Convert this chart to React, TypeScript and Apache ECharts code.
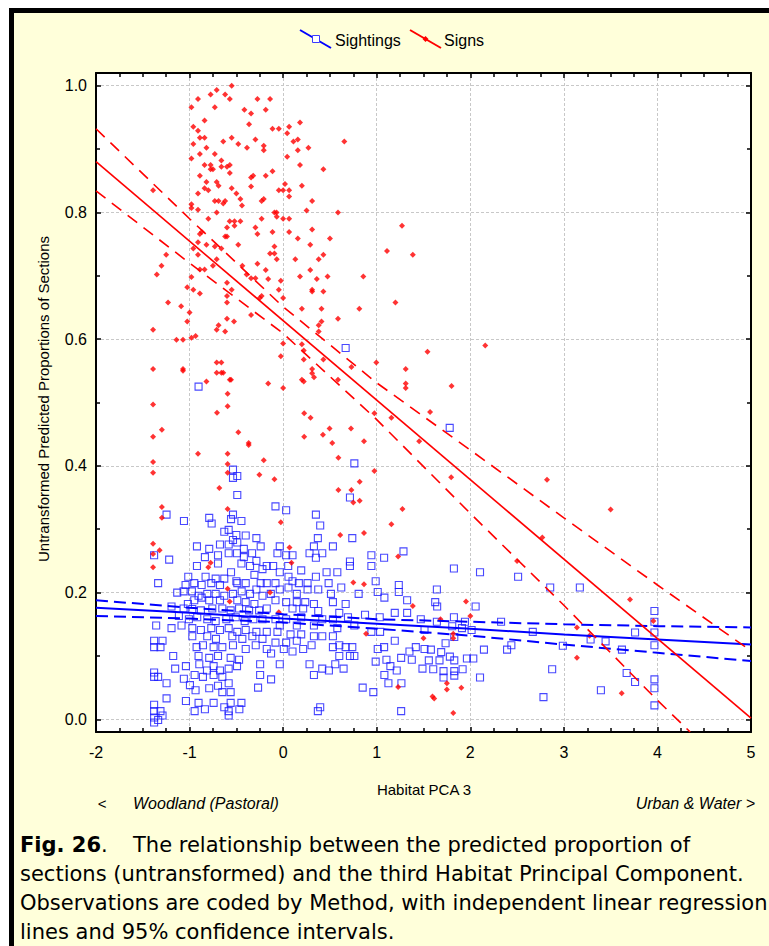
import { useEffect, useRef } from "react";
import * as echarts from "echarts";

// ---- data ----
const xTicks = [-2, -1, 0, 1, 2, 3, 4, 5];

const sightings: [number, number][] = [
  [-0.536,0.394],[-0.536,0.381],[-0.49,0.384],[-0.49,0.354],[-1.246,0.323],[-1.06,0.313],[-0.79,0.318],[-0.764,0.309],[-0.536,0.323],[-0.557,0.316],[-0.446,0.313],[-0.629,0.296],[-0.582,0.299],[-0.5,0.291],[-0.4,0.29],[-0.286,0.286],[-0.921,0.273],[-0.79,0.269],[-0.675,0.276],[-0.582,0.276],[-0.536,0.283],[-0.49,0.279],[-0.42,0.269],[-0.332,0.262],[-0.24,0.273],[-1.379,0.259],[-1.218,0.252],[-0.836,0.256],[-0.696,0.259],[-0.582,0.262],[-0.493,0.262],[-0.42,0.256],[-0.921,0.242],[-0.696,0.246],[-0.446,0.246],[-0.354,0.242],[-0.286,0.25],[-0.221,0.237],[-1.336,0.215],[-1.014,0.225],[-0.829,0.225],[-0.721,0.222],[-0.557,0.232],[-0.629,0.222],[-0.5,0.218],[-0.307,0.228],[-1.043,0.212],[-0.95,0.215],[-0.871,0.212],[-0.768,0.215],[-0.675,0.212],[-0.49,0.215],[-0.4,0.215],[-0.24,0.215],[-1.132,0.2],[-1.064,0.202],[-0.975,0.202],[-0.904,0.195],[-0.811,0.198],[-0.721,0.198],[-0.629,0.195],[-0.536,0.198],[-0.443,0.202],[-0.354,0.198],[-0.286,0.205],[-0.221,0.195],[-1.018,0.182],[-0.95,0.188],[-0.871,0.192],[-0.79,0.188],[-0.675,0.188],[-0.49,0.188],[-0.4,0.185],[-0.307,0.182],[-1.193,0.178],[-1.064,0.175],[-0.971,0.174],[-0.879,0.172],[-0.757,0.175],[-0.65,0.175],[-0.561,0.172],[-0.471,0.175],[-0.364,0.172],[-0.257,0.172],[-1.114,0.163],[-1.007,0.158],[-0.918,0.161],[-0.811,0.158],[-0.721,0.155],[-0.607,0.158],[-0.507,0.161],[-0.411,0.155],[-0.318,0.158],[-0.221,0.158],[-1.357,0.148],[-1.193,0.144],[-1.086,0.148],[-0.971,0.144],[-0.879,0.141],[-0.768,0.144],[-0.675,0.141],[-0.582,0.144],[-0.49,0.138],[-0.4,0.141],[-0.286,0.138],[-0.971,0.131],[-0.811,0.131],[-0.718,0.127],[-0.543,0.131],[-0.436,0.127],[-0.329,0.131],[-0.221,0.127],[-1.379,0.124],[-1.289,0.124],[-1.379,0.114],[-1.311,0.114],[-0.925,0.114],[-0.857,0.117],[-0.743,0.114],[-0.65,0.114],[-0.536,0.117],[-0.4,0.111],[-0.293,0.117],[-1.175,0.1],[-0.904,0.1],[-0.79,0.097],[-0.696,0.1],[-0.561,0.097],[-0.471,0.094],[-1.039,0.084],[-0.896,0.087],[-0.814,0.077],[-0.743,0.084],[-0.675,0.077],[-0.582,0.08],[-0.493,0.084],[-0.246,0.087],[-1.154,0.08],[-1.379,0.074],[-1.379,0.067],[-1.336,0.067],[-1.061,0.064],[-0.946,0.07],[-0.857,0.067],[-0.743,0.07],[-0.65,0.067],[-0.246,0.07],[-1.246,0.057],[-0.996,0.054],[-0.936,0.046],[-0.79,0.049],[-0.696,0.053],[-0.582,0.057],[-0.65,0.043],[-0.561,0.043],[-0.268,0.05],[-1.246,0.033],[-1.039,0.029],[-0.904,0.026],[-0.743,0.026],[-0.561,0.026],[-0.446,0.026],[-0.946,0.013],[-0.836,0.016],[-0.629,0.019],[-0.582,0.013],[-0.468,0.016],[-1.379,0.023],[-1.379,0.013],[-1.311,0.013],[-1.289,0.006],[-1.379,0.003],[-1.336,-0.001],[-0.582,0.006],[-1.379,-0.005],
  [0.761,0.404],[0.714,0.35],[-0.082,0.336],[0.032,0.33],[0.35,0.323],[0.396,0.306],[0.371,0.286],[0.739,0.286],[1.286,0.265],[-0.036,0.273],[0.329,0.273],[0.532,0.273],[-0.061,0.262],[0.032,0.259],[0.1,0.259],[0.282,0.262],[0.418,0.262],[0.35,0.255],[0.943,0.259],[1.079,0.255],[0.714,0.249],[-0.175,0.242],[-0.107,0.242],[0.054,0.242],[0.943,0.242],[0.193,0.235],[0.464,0.232],[0.579,0.232],[0.714,0.242],[-0.036,0.232],[0.057,0.225],[0.35,0.225],[-0.175,0.215],[-0.082,0.215],[0.1,0.218],[0.168,0.215],[0.261,0.215],[0.486,0.215],[0.621,0.208],[0.989,0.218],[1.236,0.212],[1.236,0.201],[0.807,0.198],[1.011,0.201],[1.082,0.192],[1.325,0.188],[-0.036,0.205],[0.057,0.208],[0.146,0.198],[0.261,0.205],[0.375,0.205],[0.511,0.198],[-0.132,0.198],[0.668,0.182],[0.532,0.185],[-0.082,0.188],[0.032,0.185],[0.146,0.185],[0.236,0.185],[0.329,0.182],[-0.175,0.175],[0.1,0.175],[0.214,0.175],[0.375,0.171],[0.6,0.168],[0.875,0.165],[1.193,0.168],[1.325,0.168],[0.693,0.161],[1.032,0.161],[-0.082,0.158],[0.032,0.158],[0.193,0.161],[0.418,0.158],[0.532,0.158],[-0.036,0.148],[0.146,0.148],[0.329,0.148],[0.579,0.144],[0.761,0.148],[0.943,0.138],[1.036,0.138],[-0.175,0.138],[-0.061,0.138],[0.079,0.134],[0.193,0.134],[0.329,0.131],[0.418,0.131],[0.532,0.131],[1.193,0.124],[-0.082,0.121],[0.032,0.121],[0.146,0.124],[0.304,0.117],[0.532,0.114],[0.6,0.117],[0.668,0.114],[0.739,0.114],[1.011,0.111],[1.079,0.114],[1.35,0.107],[1.418,0.114],[1.511,0.111],[-0.175,0.111],[-0.129,0.104],[0.007,0.111],[0.1,0.107],[0.214,0.111],[0.6,0.1],[0.714,0.1],[0.761,0.1],[1.375,0.094],[1.261,0.097],[1.104,0.094],[1.489,0.08],[0.989,0.091],[-0.036,0.087],[0.282,0.087],[0.557,0.087],[0.418,0.08],[0.489,0.077],[0.646,0.08],[0.329,0.07],[-0.129,0.063],[1.082,0.07],[1.214,0.077],[1.146,0.084],[1.125,0.057],[1.264,0.057],[0.85,0.05],[0.964,0.043],[0.396,0.019],[0.371,0.013],[1.261,0.013],
  [1.825,0.238],[2.104,0.232],[2.511,0.225],[2.854,0.208],[3.171,0.208],[1.643,0.205],[1.625,0.185],[1.646,0.178],[2.057,0.178],[1.825,0.161],[1.471,0.158],[1.643,0.154],[1.943,0.154],[2.329,0.154],[1.807,0.147],[1.911,0.144],[1.511,0.141],[2.014,0.141],[2.668,0.138],[1.829,0.13],[3.968,0.171],[3.968,0.154],[3.761,0.137],[3.968,0.137],[3.286,0.126],[3.446,0.123],[1.736,0.12],[2.989,0.116],[3.968,0.117],[2.439,0.117],[2.146,0.11],[2.393,0.11],[1.579,0.11],[3.621,0.11],[1.689,0.106],[1.782,0.099],[1.964,0.096],[2.032,0.096],[1.557,0.093],[1.671,0.093],[1.829,0.093],[1.604,0.079],[1.714,0.076],[1.829,0.076],[1.918,0.079],[2.875,0.079],[3.671,0.073],[1.714,0.066],[1.829,0.069],[2.104,0.066],[3.761,0.059],[3.968,0.063],[3.968,0.049],[3.396,0.046],[2.782,0.035],[3.968,0.022],
  [-0.904,0.525],[0.668,0.586],[1.78,0.46],
];

const signs: [number, number][] = [
  [-0.55,1.0],[-0.71,0.993],[-0.62,0.986],[-0.775,0.986],[-0.91,0.979],[-0.57,0.979],[-0.275,0.979],[-0.14,0.979],[-0.98,0.966],[-0.73,0.966],[-0.186,0.962],[-0.414,0.962],[-0.343,0.956],[-0.84,0.945],[0.18,0.942],[-0.364,0.939],[-0.96,0.935],[-0.91,0.929],[0.064,0.935],[-0.114,0.932],[-0.046,0.932],[0.043,0.925],[-0.89,0.918],[-0.84,0.918],[-0.55,0.918],[-0.296,0.915],[0.11,0.912],[0.157,0.915],[-0.64,0.912],[-0.48,0.908],[-0.96,0.908],[-0.207,0.905],[-0.207,0.898],[-0.386,0.902],[-0.82,0.902],[0.27,0.902],[0.157,0.898],[0.654,0.912],[-0.89,0.892],[-0.73,0.892],[-0.98,0.885],[0.043,0.888],[-0.66,0.882],[-0.84,0.875],[0.18,0.875],[-0.775,0.875],[-0.66,0.872],[-0.57,0.875],[-0.6,0.872],[-0.75,0.868],[-0.775,0.868],[-0.114,0.865],[0.43,0.868],[-0.57,0.862],[-0.89,0.858],[-0.343,0.855],[-0.186,0.858],[-0.32,0.858],[-0.71,0.848],[-0.69,0.842],[-0.82,0.848],[-0.84,0.838],[-0.8,0.835],[-0.55,0.838],[-0.046,0.835],[0,0.835],[0.02,0.845],[0.064,0.835],[0.2,0.842],[-0.343,0.841],[-0.5,0.83],[0.064,0.825],[-0.91,0.83],[-1.39,0.835],[-0.457,0.821],[-0.73,0.818],[-0.69,0.818],[-0.62,0.818],[-0.64,0.814],[-0.23,0.818],[-0.207,0.821],[0.31,0.818],[-0.98,0.813],[-0.98,0.807],[-0.91,0.804],[-0.44,0.811],[0.25,0.803],[-0.71,0.8],[-0.093,0.8],[-0.07,0.8],[0.586,0.8],[-0.068,0.793],[0,0.79],[0.064,0.79],[-0.8,0.79],[-0.23,0.79],[-0.571,0.786],[-0.52,0.786],[-0.457,0.786],[-0.6,0.776],[-0.52,0.779],[-0.296,0.776],[0.31,0.773],[1.27,0.779],[-0.62,0.762],[-0.6,0.762],[-0.275,0.766],[-0.114,0.769],[0.064,0.769],[-0.87,0.769],[-0.89,0.766],[0.157,0.759],[0.5,0.759],[-0.91,0.753],[-0.82,0.749],[-0.48,0.749],[-0.73,0.746],[-0.66,0.743],[0.29,0.749],[-0.96,0.743],[-0.093,0.746],[1.11,0.739],[1.386,0.733],[-0.14,0.735],[-0.093,0.735],[-0.91,0.733],[-1.25,0.733],[-0.71,0.726],[-0.068,0.726],[0.13,0.726],[0.38,0.726],[0.43,0.733],[-0.75,0.716],[-0.436,0.716],[-0.275,0.719],[-1.3,0.716],[-0.84,0.71],[-0.89,0.71],[-0.186,0.709],[0.29,0.709],[-1.35,0.702],[-0.98,0.698],[-0.39,0.702],[-0.343,0.696],[-0.296,0.696],[-0.16,0.695],[-0.025,0.692],[0.18,0.699],[0.36,0.695],[0.475,0.699],[0.857,0.699],[-0.6,0.689],[-1.025,0.682],[-0.96,0.678],[-0.55,0.678],[-0.046,0.678],[0.31,0.678],[0.43,0.675],[0.31,0.675],[-0.89,0.672],[-0.6,0.668],[-0.23,0.668],[-0.25,0.665],[0,0.665],[-1.23,0.658],[-0.6,0.658],[1.2,0.658],[-1.09,0.652],[-1.0,0.642],[0.2,0.648],[0.41,0.648],[0.814,0.648],[-0.343,0.638],[-0.6,0.632],[-0.525,0.628],[-1.025,0.628],[0.586,0.632],[0.41,0.628],[0.38,0.622],[-0.69,0.622],[-0.71,0.615],[-1.39,0.615],[-0.62,0.612],[0.38,0.612],[-0.935,0.605],[-0.98,0.602],[-1.14,0.599],[-1.07,0.599],[0,0.593],[0.2,0.592],[-0.025,0.573],[0.22,0.582],[0.22,0.568],[0.43,0.568],[0.996,0.563],[0.73,0.556],[-1.39,0.553],[-1.07,0.553],[-1.07,0.55],[0.31,0.553],[-0.71,0.563],[-0.66,0.563],[-0.71,0.547],[-0.66,0.547],[-0.64,0.547],[0.31,0.546],[1.31,0.553],[-0.557,0.536],[-0.57,0.536],[-0.82,0.533],[-0.16,0.53],[0.2,0.536],[0.22,0.533],[0.33,0.54],[0.586,0.536],[1.31,0.53],[1.31,0.523],[0,0.523],
  [1.543,0.58],[2.16,0.59],[1.8,0.526],[1.57,0.485],
  [0.225,0.483],[0.293,0.476],[0.496,0.459],[0.725,0.459],[0.425,0.449],[0.225,0.446],[0.525,0.436],[0.864,0.439],[0.975,0.483],[1.157,0.476],[1.454,0.439],[0.59,0.413],[0.975,0.392],[-0.093,0.379],[0.818,0.375],[0.59,0.362],[0.729,0.362],[0.818,0.345],[0.75,0.342],[1.275,0.332],[-0.025,0.311],[1.157,0.308],[0.61,0.291],[0.864,0.294],[0.068,0.271],[1.229,0.257],[0.089,0.247],[0.75,0.216],[0.864,0.213],[-0.14,0.2],[1.386,0.179],[-0.046,0.169],[0.886,0.135],[1.5,0.128],[1.229,0.051],
  [-0.593,0.514],[-1.39,0.497],[-0.593,0.494],[-0.707,0.484],[-1.296,0.457],[-0.479,0.453],[-1.39,0.446],[-0.368,0.436],[-0.368,0.433],[-0.91,0.419],[-0.593,0.419],[-0.207,0.409],[-1.39,0.406],[-0.593,0.403],[-1.39,0.389],[-0.593,0.389],[-0.254,0.386],[-0.682,0.365],[-1.296,0.335],[-0.593,0.332],[-1.296,0.318],[-1.39,0.277],[-1.32,0.267],[-1.39,0.261],[-0.775,0.247],[-0.8,0.24],[-1.39,0.24],[-0.593,0.206],[-0.571,0.186],
  [1.796,0.382],[2.82,0.378],[3.5,0.331],[2.77,0.287],[2.5,0.25],[3.707,0.189],[1.954,0.186],[2.0,0.163],[1.682,0.158],[1.818,0.135],[1.818,0.128],[3.14,0.145],[3.275,0.132],[3.957,0.155],[3.14,0.097],[1.75,0.057],[1.75,0.047],[1.904,0.05],[1.596,0.036],[1.614,0.033],[3.618,0.041],[1.818,0.01],
];

// regression lines and 95% confidence bands (values read at x positions)
const fitX = [-2, -1, 0, 1, 2, 3, 4, 5];
const sightingsFit = [0.176, 0.168, 0.159, 0.151, 0.143, 0.134, 0.126, 0.118];
const sightingsUpper = [0.188, 0.176, 0.166, 0.158, 0.154, 0.15, 0.147, 0.145];
const sightingsLower = [0.163, 0.159, 0.153, 0.143, 0.132, 0.118, 0.105, 0.092];

const signsFitX = [-2, 5];
const signsFit = [0.88, 0.002];
const signsUpper = [0.932, 0.79, 0.651, 0.531, 0.425, 0.318, 0.212, 0.108];
const signsLowerX = [-2, -1, 0, 1, 2, 3, 4, 4.35];
const signsLower = [0.834, 0.72, 0.609, 0.473, 0.325, 0.18, 0.03, -0.02];

const seriesNames = ["Sightings", "Signs"];
const xAxisTitle = "Habitat PCA 3";
const yAxisTitle = "Untransformed Predicted Proportions of Sections";
const leftNote = "Woodland (Pastoral)";
const rightNote = "Urban & Water >";
const captionLines = [
  "The relationship between the predicted proportion of",
  "sections (untransformed) and the third Habitat Principal Component.",
  "Observations are coded by Method, with independent linear regression",
  "lines and 95% confidence intervals.",
];

const zip = (xs: number[], ys: number[]) => xs.map((x, i) => [x, ys[i]]);

const BLUE = "#0000ff";
const RED = "#ff0000";
const AX_FONT = '"Liberation Sans", Arial, sans-serif';
const CAP_FONT = '"DejaVu Sans", Verdana, sans-serif';
const CAP_SIZE = 21;

export default function App() {
  const ref = useRef<HTMLDivElement>(null);
  useEffect(() => {
    if (!ref.current) return;
    const chart = echarts.init(ref.current, undefined, { renderer: "svg" });
    const tickCommon = {
      axisLine: { show: true, onZero: false, lineStyle: { color: "#000", width: 2 } },
      axisTick: { show: true, inside: true, length: 5, lineStyle: { color: "#000", width: 1.5 } },
    };
    const xBase = { type: "value", min: xTicks[0], max: xTicks[xTicks.length - 1], interval: 1 } as any;
    const yBase = { type: "value", min: -0.02, max: 1.02, splitNumber: 5 } as any;
    const lineSeries = (name: string, data: any[], color: string, width: number, dash: number[] | null) => ({
      name,
      type: "line",
      data,
      showSymbol: false,
      symbol: "none",
      silent: true,
      clip: true,
      lineStyle: { color, width, type: dash ? dash : "solid" },
      z: 5,
    });
    chart.setOption({
      animation: false,
      grid: { left: 96, right: 18, top: 73, bottom: 214, show: true, backgroundColor: "#ffffff", borderWidth: 0 },
      xAxis: [
        {
          ...xBase,
          position: "bottom",
          ...tickCommon,
          minorTick: { show: true, splitNumber: 4, length: 4, lineStyle: { color: "#000", width: 1.5 } },
          axisLabel: { color: "#000", fontSize: 16, fontFamily: AX_FONT, margin: 12 },
          splitLine: { show: true, lineStyle: { color: "#c8c8c8", width: 1, type: [3, 2] } },
        },
        {
          ...xBase,
          position: "top",
          ...tickCommon,
          minorTick: { show: true, splitNumber: 4, length: 4, lineStyle: { color: "#000", width: 1.5 } },
          axisLabel: { show: false },
          splitLine: { show: false },
        },
      ],
      yAxis: [
        {
          ...yBase,
          position: "left",
          ...tickCommon,
          minorTick: { show: true, splitNumber: 2, length: 4, lineStyle: { color: "#000", width: 1.5 } },
          axisLabel: {
            color: "#000",
            fontSize: 16,
            fontFamily: AX_FONT,
            margin: 9,
            formatter: (v: number) => (Math.abs(v * 5 - Math.round(v * 5)) < 1e-6 ? v.toFixed(1) : ""),
          },
          splitLine: { show: true, lineStyle: { color: "#c8c8c8", width: 1, type: [3, 2] } },
        },
        {
          ...yBase,
          position: "right",
          ...tickCommon,
          minorTick: { show: true, splitNumber: 2, length: 4, lineStyle: { color: "#000", width: 1.5 } },
          axisLabel: { show: false },
          splitLine: { show: false },
        },
      ],
      series: [
        {
          name: seriesNames[0],
          type: "scatter",
          data: sightings,
          symbol: "rect",
          symbolSize: 7,
          itemStyle: { color: "rgba(255,255,255,0)", borderColor: "#1a1aff", borderWidth: 1.1 },
          z: 2,
        },
        {
          name: seriesNames[1],
          type: "scatter",
          data: signs,
          symbol: "diamond",
          symbolSize: 6,
          itemStyle: { color: RED },
          z: 3,
        },
        lineSeries("sightingsFit", zip(fitX, sightingsFit), BLUE, 2, null),
        lineSeries("sightingsUpper", zip(fitX, sightingsUpper), BLUE, 2, [12, 6]),
        lineSeries("sightingsLower", zip(fitX, sightingsLower), BLUE, 2, [12, 6]),
        lineSeries("signsFit", zip(signsFitX, signsFit), RED, 1.6, null),
        lineSeries("signsUpper", zip(fitX, signsUpper), RED, 1.6, [12, 8]),
        lineSeries("signsLower", zip(signsLowerX, signsLower), RED, 1.6, [12, 8]),
      ],
      graphic: [
        // legend
        { type: "line", shape: { x1: 300, y1: 30, x2: 331, y2: 48 }, style: { stroke: BLUE, lineWidth: 2 } },
        { type: "rect", shape: { x: 312.5, y: 35.5, width: 7, height: 7 }, style: { fill: "#fff", stroke: "#3a3aff", lineWidth: 1 } },
        {
          type: "text", x: 335, y: 40,
          style: { text: seriesNames[0], fontSize: 16, fontFamily: AX_FONT, fill: "#000", textAlign: "left", textVerticalAlign: "middle" },
        },
        { type: "line", shape: { x1: 410, y1: 30, x2: 441, y2: 48 }, style: { stroke: RED, lineWidth: 2 } },
        { type: "polygon", shape: { points: [[425.5, 36], [428.5, 39], [425.5, 42], [422.5, 39]] }, style: { fill: RED } },
        {
          type: "text", x: 444, y: 40,
          style: { text: seriesNames[1], fontSize: 16, fontFamily: AX_FONT, fill: "#000", textAlign: "left", textVerticalAlign: "middle" },
        },
        // axis titles
        {
          type: "text", x: 424, y: 789,
          style: { text: xAxisTitle, fontSize: 15, fontFamily: AX_FONT, fill: "#000", textAlign: "center", textVerticalAlign: "middle" },
        },
        {
          type: "text", x: 43, y: 399, rotation: Math.PI / 2,
          style: { text: yAxisTitle, fontSize: 15, fontFamily: AX_FONT, fill: "#000", textAlign: "center", textVerticalAlign: "middle" },
        },
        {
          type: "text", x: 102, y: 803,
          style: { text: "<", fontSize: 15, fontFamily: AX_FONT, fill: "#000", textAlign: "center", textVerticalAlign: "middle" },
        },
        {
          type: "text", x: 133, y: 803,
          style: { text: leftNote, fontSize: 16, fontStyle: "italic", fontFamily: AX_FONT, fill: "#000", textAlign: "left", textVerticalAlign: "middle" },
        },
        {
          type: "text", x: 755, y: 803,
          style: { text: rightNote, fontSize: 16, fontStyle: "italic", fontFamily: AX_FONT, fill: "#000", textAlign: "right", textVerticalAlign: "middle" },
        },
        // caption
        {
          type: "text", x: 20, y: 845,
          style: {
            text: "{b|Fig. 26}.",
            fontSize: CAP_SIZE, fontFamily: CAP_FONT, fill: "#000", textAlign: "left", textVerticalAlign: "middle",
            rich: { b: { fontSize: CAP_SIZE, fontWeight: "bold", fontFamily: CAP_FONT, fill: "#000" } },
          },
        },
        ...captionLines.map((t, i) => ({
          type: "text", x: i === 0 ? 133 : 20, y: 845 + i * 29,
          style: { text: t, fontSize: CAP_SIZE, fontFamily: CAP_FONT, fill: "#000", textAlign: "left", textVerticalAlign: "middle" },
        })),
      ],
    });
    return () => chart.dispose();
  }, []);

  return (
    <div style={{ position: "absolute", left: 0, top: 0, width: 769, height: 946, background: "#fff", overflow: "hidden" }}>
      <div style={{ position: "absolute", left: 9, top: 8, width: 760, height: 938, background: "#000" }} />
      <div style={{ position: "absolute", left: 14, top: 13, width: 755, height: 933, background: "#FFFFDA" }} />
      <div ref={ref} style={{ position: "absolute", left: 0, top: 0, width: 769, height: 946 }} />
    </div>
  );
}
